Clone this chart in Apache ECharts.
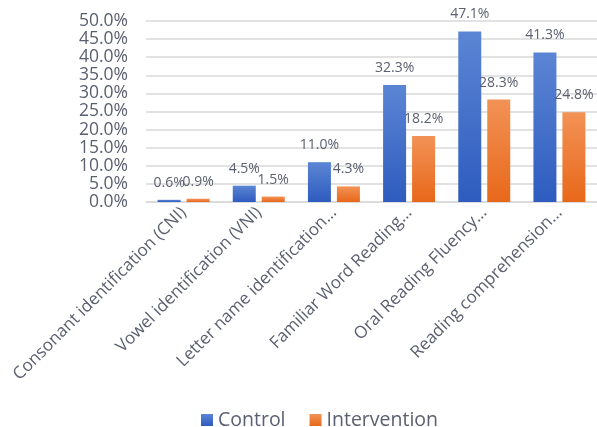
<!DOCTYPE html>
<html><head><meta charset="utf-8">
<script src="https://cdn.jsdelivr.net/npm/echarts@6/dist/echarts.min.js"></script>
<style>html,body{margin:0;padding:0;background:#fff}#c{width:597px;height:427px}</style>
</head><body><div id="c"></div>
<script>
const categories = ["Consonant identification (CNI)","Vowel identification (VNI)","Letter name identification…","Familiar Word Reading…","Oral Reading Fluency…","Reading comprehension…"];
const control = [0.6, 4.5, 11.0, 32.3, 47.1, 41.3];
const intervention = [0.9, 1.5, 4.3, 18.2, 28.3, 24.8];
const yTicks = {min:0, max:50, interval:5};

const font = "'Open Sans', 'Noto Sans', sans-serif";
const txt = '#5b6070';
function grad(a,b){return new echarts.graphic.LinearGradient(0,0,0,1,[{offset:0,color:a},{offset:1,color:b}]);}
const chart = echarts.init(document.getElementById('c'));
chart.setOption({
  animation:false,
  textStyle:{fontFamily:font},
  grid:{left:146, top:21, width:456, bottom:225},
  legend:{top:405, left:196, itemWidth:12, itemHeight:12, itemGap:24, icon:'rect',
    textStyle:{fontSize:19.5, color:txt, fontFamily:font},
    data:['Control','Intervention']},
  xAxis:{type:'category', data:categories,
    axisLine:{lineStyle:{color:'#d9d9d9', width:1.5}}, axisTick:{show:false},
    axisLabel:{rotate:45, interval:0, fontSize:17, color:txt, margin:8, fontFamily:font}},
  yAxis:{type:'value', min:yTicks.min, max:yTicks.max, interval:yTicks.interval,
    axisLine:{show:false}, axisTick:{show:false},
    splitLine:{lineStyle:{color:'#d9d9d9', width:1.5}},
    axisLabel:{formatter:v=>v.toFixed(1)+'%', fontSize:17.5, color:txt, margin:18, fontFamily:font}},
  series:[
    {name:'Control', type:'bar', data:control, barWidth:23, barGap:'26%',
     itemStyle:{color:grad('#5b85d4','#2e5cbf')},
     label:{show:true, position:'top', distance:10, formatter:p=>p.value.toFixed(1)+'%', fontSize:14, color:txt, fontFamily:font}},
    {name:'Intervention', type:'bar', data:intervention, barWidth:23,
     itemStyle:{color:grad('#f29256','#e8681a')},
     label:{show:true, position:'top', distance:10, formatter:p=>p.value.toFixed(1)+'%', fontSize:14, color:txt, fontFamily:font}}
  ]
});
</script></body></html>
